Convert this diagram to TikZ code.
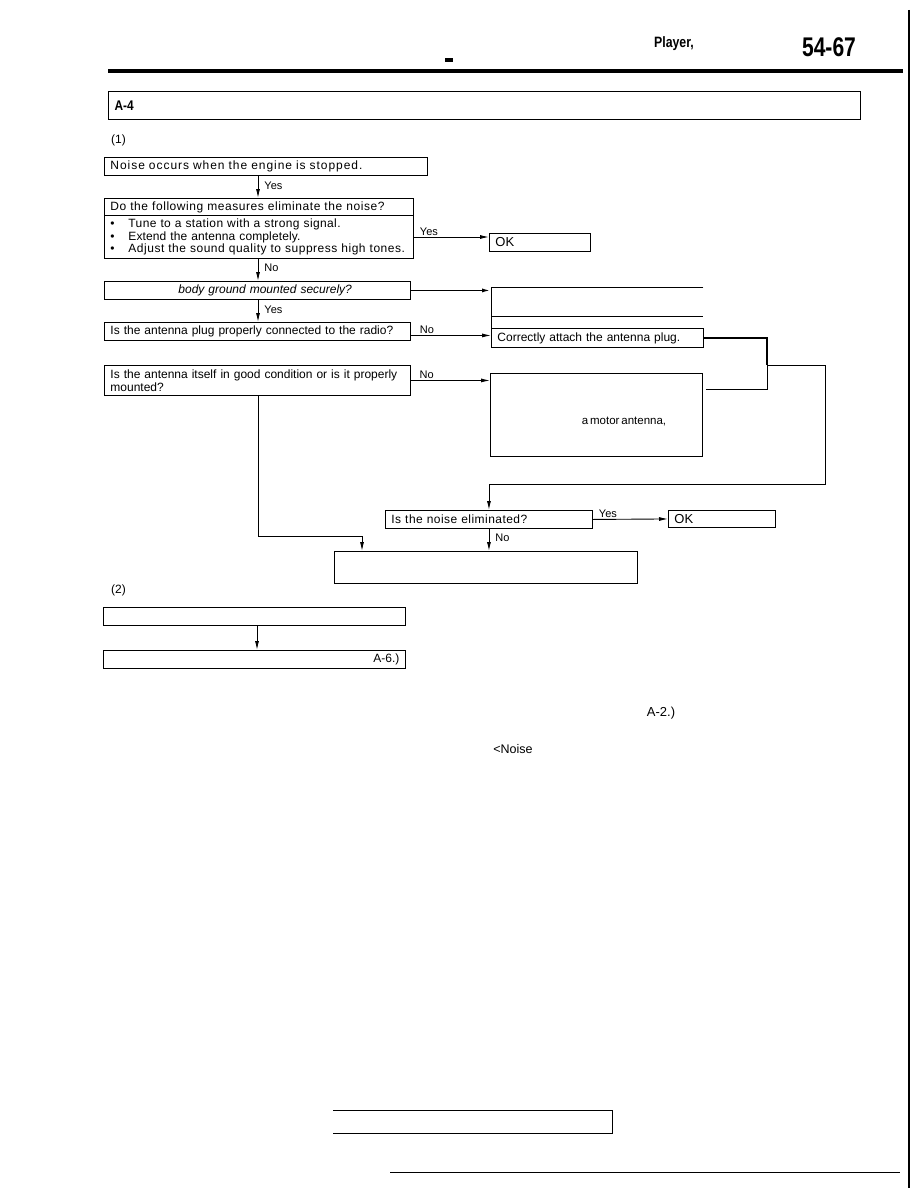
\documentclass[tikz,border=0pt]{standalone}
\usepackage{fontspec}
\setmainfont{Liberation Sans}
\usetikzlibrary{arrows.meta,calc}
\newcommand{\lsp}[1]{\fontsize{12}{14}\selectfont\addfontfeatures{LetterSpace=#1}}
\begin{document}
\begin{tikzpicture}[x=1pt,y=-1pt,
  txt/.style={font=\fontsize{12}{14.5}\selectfont},
  lbl/.style={font=\fontsize{11}{12}\selectfont, inner sep=1pt},
  bx/.style={draw, line width=0.9pt, anchor=north west, inner xsep=6pt, inner ysep=0pt, txt},
  ln/.style={line width=0.9pt},
  arr/.style={line width=0.9pt, -{Latex[length=9pt,width=4pt]}},
  hd/.style={font=\bfseries, inner sep=0pt}]
\useasboundingbox (0,0) rectangle (918,1188);

% header
\node[hd, font=\bfseries\fontsize{15}{15}\selectfont, xscale=0.82] (pl) at (674,44) {Player,};
\node[fill, minimum width=8pt, minimum height=3.5pt, inner sep=0pt] (dsh) at (449,60) {};
\node[hd, font=\bfseries\fontsize{27}{27}\selectfont, xscale=0.78] (pg) at (829,47) {54-67};
\draw[line width=4pt] (108,71) -- (903,71);
\node[draw, line width=1.2pt, anchor=north west, minimum width=752pt, minimum height=28pt,
      text width=740pt, inner xsep=4pt, inner ysep=0pt] (a4) at (108,91) {\scalebox{0.85}[1]{\bfseries\fontsize{14}{14}\selectfont A-4}};
\draw[line width=1.3pt] (909,10) -- (909,1188);

% (1)
\node[txt, anchor=west, inner sep=0pt] (n1) at (111,140) {(1)};

\coordinate (cx) at (258,0);

\node[bx, minimum height=18pt, text width=311pt, font=\lsp{8}] (b1) at (104,157) {Noise occurs when the engine is stopped.};
\node[bx, minimum height=17pt, text width=297pt, font=\lsp{4.7}] (b2h) at (104,198) {Do the following measures eliminate the noise?};
\node[bx, minimum height=43pt, text width=297pt, font=\fontsize{12}{12.6}\selectfont] (b2) at (104,215)
  {\makebox[18pt][l]{\textbullet}{\addfontfeatures{LetterSpace=3.2}Tune to a station with a strong signal.}\\
   \makebox[18pt][l]{\textbullet}{\addfontfeatures{LetterSpace=1}Extend the antenna completely.}\\
   \makebox[18pt][l]{\textbullet}{\addfontfeatures{LetterSpace=4.3}Adjust the sound quality to suppress high tones.}};
\node[bx, minimum height=18pt, text width=89pt, font=\fontsize{13}{14}\selectfont] (ok1) at (489,233) {OK};

\node[bx, minimum height=18pt, text width=294pt, font=\itshape\fontsize{12}{14}\selectfont] (b3) at (104,281) {\hspace*{68pt}body ground mounted securely?};
\node[minimum width=212pt, minimum height=29pt, inner sep=0pt, anchor=north west] (t3) at (491,287) {};
\draw[ln] (t3.north east) -- (t3.north west) -- (t3.south west);
\draw[ln] (t3.south west) -- (t3.south east);

\node[bx, minimum height=18pt, text width=294pt] (b4) at (104,322) {Is the antenna plug properly connected to the radio?};
\node[bx, minimum height=19pt, text width=200pt] (c1) at (491,328) {Correctly attach the antenna plug.};
\draw[ln] (t3.south west) -- (c1.north west);

\node[bx, minimum height=30pt, text width=294pt, font=\fontsize{12}{13}\selectfont] (b5) at (104,365)
  {Is the antenna itself in good condition or is it properly\linebreak mounted?};
\node[bx, minimum height=83pt, minimum width=212pt, inner xsep=0pt] (m1) at (490,373) {};
\node[txt, inner sep=0pt, font=\fontsize{11.5}{13}\selectfont] (m1t) at (624,422) {a\,motor\,antenna,};

\node[bx, minimum height=18pt, text width=195pt, font=\lsp{3.8}] (b7) at (385,510) {Is the noise eliminated?};
\node[bx, minimum height=17pt, text width=95pt, font=\fontsize{13}{14}\selectfont] (ok2) at (668,510) {OK};
\node[bx, minimum height=32pt, minimum width=303pt, inner xsep=0pt] (b8) at (334,551) {};

% (2)
\node[txt, anchor=west, inner sep=0pt] (n2) at (111,590) {(2)};
\node[bx, minimum height=18pt, minimum width=302pt, inner xsep=0pt] (b9) at (103,607) {};
\node[bx, minimum height=18pt, text width=290pt, align=right] (b10) at (103,650) {A-6.)};

\node[txt, inner sep=0pt, font=\fontsize{13}{14}\selectfont] (a2) at (661,713) {A-2.)};
\node[txt, inner sep=0pt, font=\fontsize{12.5}{14}\selectfont] (ns) at (513,749) {<Noise};

% partial bottom box
\node[minimum width=279pt, minimum height=23pt, inner sep=0pt, anchor=north west] (bb) at (333,1110) {};
\draw[ln] (bb.north west) -- (bb.north east) -- (bb.south east) -- (bb.south west);
\draw[line width=1pt] (390,1172) -- (900,1172);

% connectors
\draw[arr] (cx |- b1.south) -- node[lbl, right=5pt, pos=0.45] {Yes} (cx |- b2h.north);
\coordinate (y1) at ($(b2.north east)+(0,22)$);
\draw[arr] (y1) -- node[lbl, above, pos=0.2] {Yes} (ok1.west |- y1);
\draw[arr] (cx |- b2.south) -- node[lbl, right=5pt, pos=0.4] {No} (cx |- b3.north);
\draw[line width=1.6pt, -{Latex[length=9pt,width=4pt]}] (b3.east) -- (t3.west |- b3.east);
\draw[arr] (cx |- b3.south) -- node[lbl, right=5pt, pos=0.45] {Yes} (cx |- b4.north);
\coordinate (y2) at ($(b4.east)+(0,4)$);
\draw[arr] (y2) -- node[lbl, above, pos=0.2] {No} (c1.west |- y2);
\draw[arr] (b5.east) -- node[lbl, above, pos=0.2] {No} (m1.west |- b5.east);

\coordinate (j1) at (767,365);
\coordinate (j2) at (825,365);
\draw[line width=1.4pt] (c1.east) -| (j1);
\draw[ln] (j1) |- ($(m1.north east)+(3,16)$);
\draw[ln] (j1) -- (j2);
\draw[arr] (j2) |- (b7.north |- 0,484) -- (b7.north);

\draw[arr] (b7.east) -- node[lbl, above, pos=0.2] {Yes} (ok2.west);
\draw[arr] (b7.south) -- node[lbl, right=5pt, pos=0.4] {No} (b7.south |- b8.north);
\draw[arr] (cx |- b5.south) |- (362,536) -- (362,0 |- b8.north);

\draw[arr] (257,0 |- b9.south) -- (257,0 |- b10.north);
\end{tikzpicture}
\end{document}
